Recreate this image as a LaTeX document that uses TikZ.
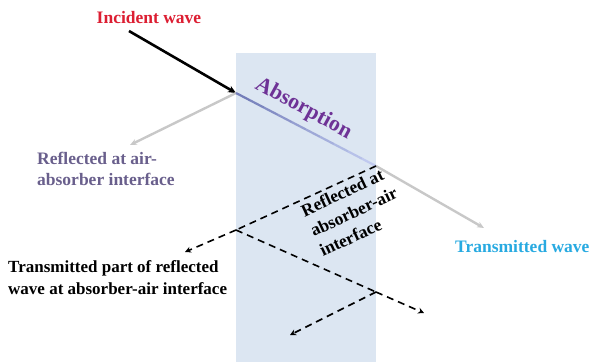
\documentclass[tikz,border=0pt]{standalone}
\usepackage{fontspec}
\setmainfont{Liberation Serif}
\usetikzlibrary{arrows.meta,calc}
\definecolor{slab}{RGB}{220,230,242}
\definecolor{incred}{RGB}{220,30,50}
\definecolor{refgray}{RGB}{105,95,140}
\definecolor{abspurple}{RGB}{110,50,150}
\definecolor{transcyan}{RGB}{40,170,225}
\definecolor{raygray}{RGB}{200,200,200}
\definecolor{absA}{RGB}{115,125,185}
\definecolor{absB}{RGB}{200,210,245}
\begin{document}
\begin{tikzpicture}[
  x=1pt, y=-1pt,
  lbl/.style={font=\bfseries\fontsize{17.5}{21}\selectfont, align=left, inner sep=0pt},
  ray/.style={-{Stealth[length=7pt,width=6pt]}, line width=2.4pt, raygray},
  dray/.style={dashed, dash pattern=on 7pt off 5pt, line width=1.6pt, black},
  darr/.style={dray, -{Stealth[length=6pt,width=6pt]}},
]
  \useasboundingbox (0,0) rectangle (590,362);
  \fill[slab] (236,53) rectangle (376,362);

  % points where the rays meet the slab faces
  \coordinate (front) at (236,93);
  \coordinate (back) at (376,166);
  \coordinate (front2) at (236,230);
  \coordinate (back2) at (376,292);

  % incident and reflected at the front face
  \coordinate (src) at (129,31);
  \coordinate (refl) at (130,145);
  \draw[-{Stealth[length=8pt,width=7pt]}, line width=2.6pt] (src) -- (front);
  \draw[ray] (front) -- (refl);

  % absorption inside the slab
  \foreach \i in {0,...,9} {
    \pgfmathsetmacro{\mix}{100-\i*10}
    \draw[line width=2.2pt, absA!\mix!absB]
      ($(front)!\i/10!(back)$) -- ($(front)!\i/10+0.1!(back)$);
  }
  \node[lbl, font=\bfseries\fontsize{22}{26}\selectfont, text=abspurple, rotate=-28.6, anchor=base west] (absl) at (254,88) {Absorption};

  % transmitted
  \coordinate (trans) at (484,228);
  \draw[ray] (back) -- (trans);

  % multiple reflections
  \coordinate (out1) at (185,252);
  \coordinate (out2) at (424,313);
  \coordinate (back3) at (290,335);
  \draw[dray] (back) -- (front2);
  \draw[darr] (front2) -- (out1);
  \draw[dray] (front2) -- (back2);
  \draw[darr] (back2) -- (out2);
  \draw[darr] (back2) -- (back3);

  % labels
  \node[lbl, text=incred, anchor=base] (inc) at (149,23) {Incident wave};
  \node[lbl, text=refgray, anchor=base west] (refll) at (37,185) {Reflected at air-\\absorber interface};
  \node[lbl, text=transcyan, anchor=base west] (transl) at (455,252) {Transmitted wave};
  \node[lbl, font=\bfseries\fontsize{17.5}{22}\selectfont, rotate=25, anchor=base west] (refl2) at (323,257) {Reflected at\\absorber-air\\interface};
  \node[lbl, font=\bfseries\fontsize{17}{21.5}\selectfont, anchor=base west] (tpart) at (8,294) {Transmitted part of reflected\\wave at absorber-air interface};
\end{tikzpicture}
\end{document}
